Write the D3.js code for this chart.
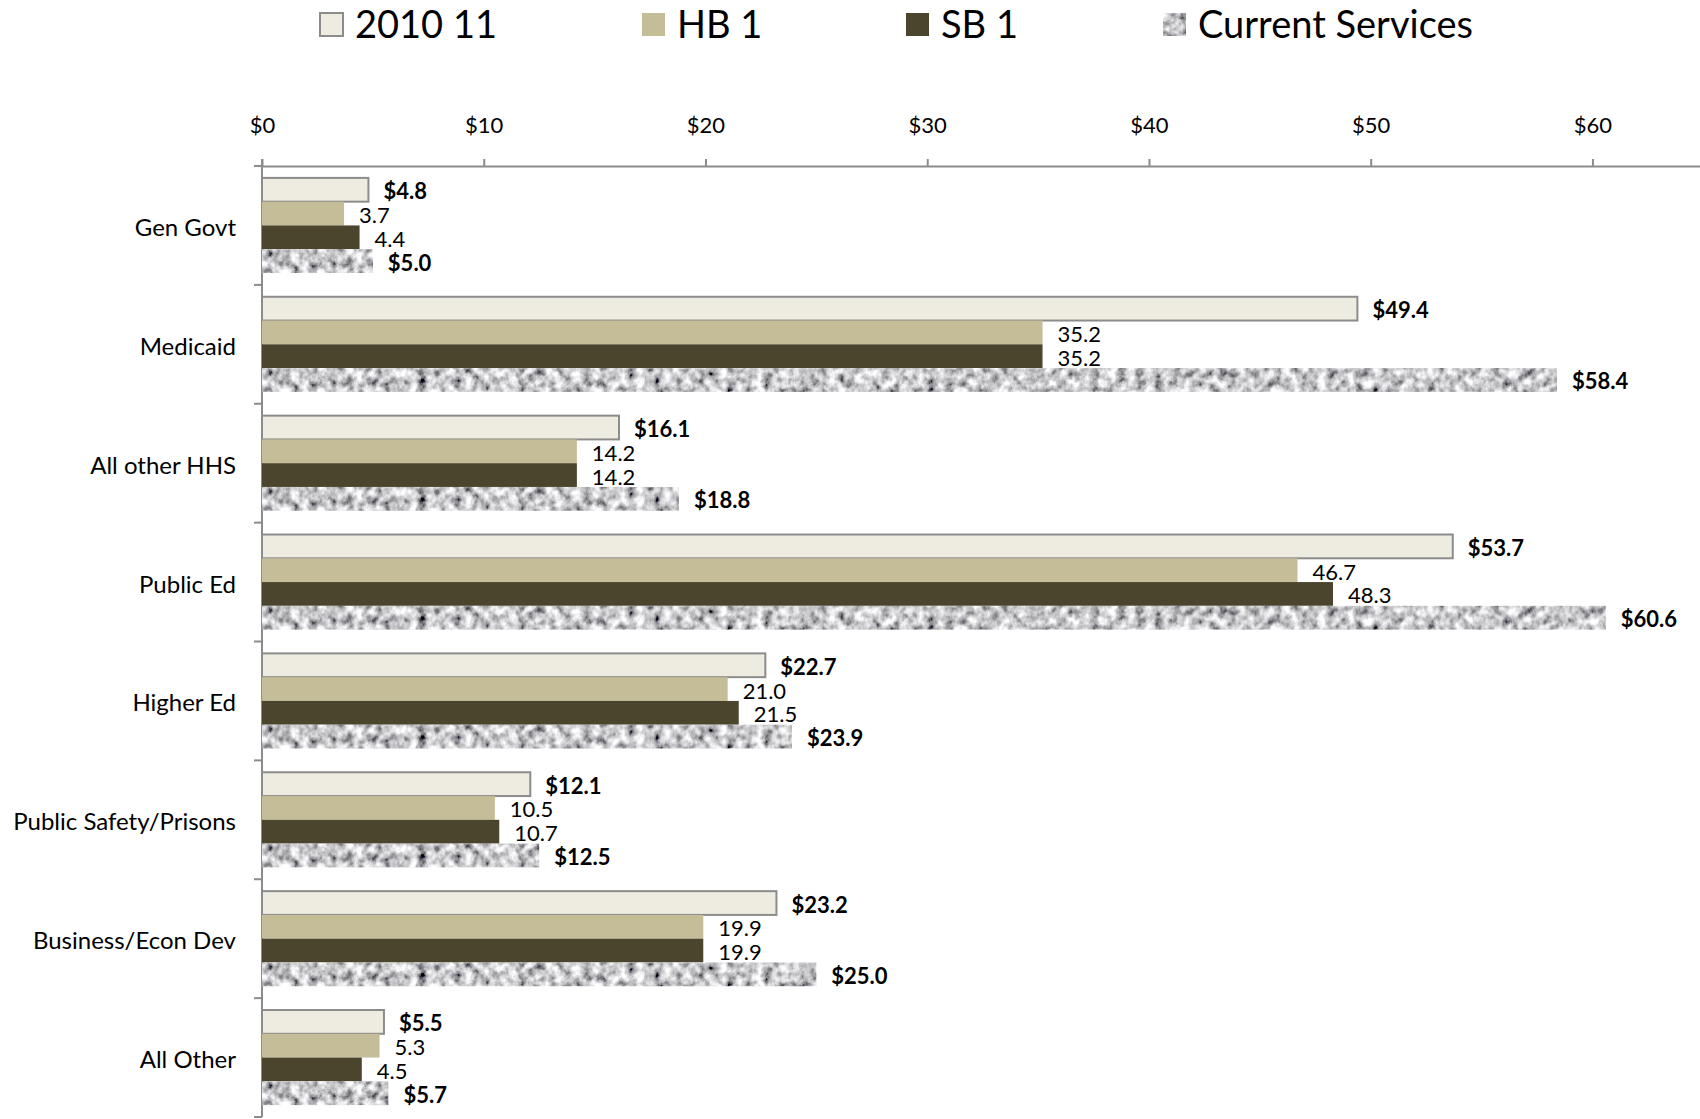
<!DOCTYPE html>
<html lang="en">

<head>
    <meta charset="UTF-8">
    <title>Spending by area</title>
    <script src="https://d3js.org/d3.v7.min.js"></script>
    <style>
        * {
            margin: 0;
            padding: 0;
        }

        body {
            background: #fff;
        }

        text {
            font-family: Lato, "Open Sans", sans-serif;
        }
    </style>
</head>

<body>
    <script>
        var width = 1700;
        var height = 1119;

        // data
        var categories = ['Gen Govt', 'Medicaid', 'All other HHS', 'Public Ed', 'Higher Ed',
            'Public Safety/Prisons', 'Business/Econ Dev', 'All Other'];
        var seriesNames = ['2010 11', 'HB 1', 'SB 1', 'Current Services'];
        var base2010 = [4.8, 49.4, 16.1, 53.7, 22.7, 12.1, 23.2, 5.5];
        var hb1 = [3.7, 35.2, 14.2, 46.7, 21.0, 10.5, 19.9, 5.3];
        var sb1 = [4.4, 35.2, 14.2, 48.3, 21.5, 10.7, 19.9, 4.5];
        var currentServices = [5.0, 58.4, 18.8, 60.6, 23.9, 12.5, 25.0, 5.7];
        var tickValues = [0, 10, 20, 30, 40, 50, 60];

        var seriesValues = [base2010, hb1, sb1, currentServices];
        var bold = [true, false, false, true];
        var fills = ['#EEEBE0', '#C5BD98', '#4B452D', 'url(#granite)'];

        var svg = d3.select('body')
            .append('svg')
            .attr('width', width)
            .attr('height', height);

        // granite texture for "Current Services"
        var defs = svg.append('defs');
        var pat = defs.append('pattern')
            .attr('id', 'granite')
            .attr('patternUnits', 'userSpaceOnUse')
            .attr('width', 1700)
            .attr('height', 1119);
        var flt = defs.append('filter')
            .attr('id', 'noise')
            .attr('filterUnits', 'userSpaceOnUse')
            .attr('x', 0).attr('y', 0)
            .attr('width', 1700).attr('height', 1119);
        flt.append('feTurbulence')
            .attr('type', 'fractalNoise')
            .attr('baseFrequency', 0.11)
            .attr('numOctaves', 4)
            .attr('seed', 4);
        flt.append('feColorMatrix')
            .attr('type', 'matrix')
            .attr('values', '1.7 0 0 0 -0.26  1.7 0 0 0 -0.26  1.7 0 0 0 -0.24  0 0 0 0 1');
        pat.append('rect')
            .attr('width', 1700)
            .attr('height', 1119)
            .attr('filter', 'url(#noise)');

        // scales
        var x = d3.scaleLinear()
            .domain([0, 64.85])
            .range([262, 1700]);

        var y = d3.scaleBand()
            .domain(categories)
            .range([166, 1117])
            .paddingInner(0.2)
            .paddingOuter(0.1);

        var ySub = d3.scaleBand()
            .domain(seriesNames)
            .range([0, y.bandwidth()]);

        // top axis
        var xAxis = d3.axisTop(x)
            .tickValues(tickValues)
            .tickSize(7)
            .tickSizeOuter(0)
            .tickPadding(26)
            .tickFormat(function (d) { return '$' + d; });

        var gx = svg.append('g')
            .attr('transform', 'translate(0,166)')
            .call(xAxis);
        gx.select('.domain').attr('stroke', '#8c8c8c').attr('stroke-width', 2);
        gx.selectAll('.tick line').attr('stroke', '#8c8c8c').attr('stroke-width', 2);
        gx.selectAll('.tick text')
            .attr('fill', '#000')
            .style('font-size', '22px')
            .style('font-family', 'Lato, sans-serif');

        // left axis line + category boundary ticks
        svg.append('line')
            .attr('x1', x(0)).attr('x2', x(0))
            .attr('y1', 159).attr('y2', 1117)
            .attr('stroke', '#8c8c8c')
            .attr('stroke-width', 2);

        var step = y.step();
        svg.selectAll('.catTick')
            .data(d3.range(categories.length + 1))
            .enter()
            .append('line')
            .attr('class', 'catTick')
            .attr('x1', x(0) - 8).attr('x2', x(0))
            .attr('y1', function (i) { return y.range()[0] + i * step; })
            .attr('y2', function (i) { return y.range()[0] + i * step; })
            .attr('stroke', '#8c8c8c')
            .attr('stroke-width', 2);

        // category labels
        svg.selectAll('.catLabel')
            .data(categories)
            .enter()
            .append('text')
            .attr('class', 'catLabel')
            .attr('x', 236)
            .attr('y', function (d) { return y(d) + y.bandwidth() / 2 + 1; })
            .attr('text-anchor', 'end')
            .attr('dominant-baseline', 'central')
            .style('font-size', '24px')
            .text(function (d) { return d; });

        // bars
        var groups = svg.selectAll('.cat')
            .data(categories)
            .enter()
            .append('g')
            .attr('class', 'cat')
            .attr('transform', function (d) { return 'translate(0,' + y(d) + ')'; });

        seriesNames.forEach(function (s, si) {
            groups.append('rect')
                .attr('x', x(0))
                .attr('y', ySub(s))
                .attr('width', function (d, i) { return x(seriesValues[si][i]) - x(0); })
                .attr('height', ySub.bandwidth())
                .attr('fill', fills[si])
                .attr('stroke', si === 0 ? '#8c8c8c' : 'none')
                .attr('stroke-width', 2);

            groups.append('text')
                .attr('x', function (d, i) { return x(seriesValues[si][i]) + 15; })
                .attr('y', ySub(s) + ySub.bandwidth() / 2 + 1)
                .attr('dominant-baseline', 'central')
                .style('font-size', '22px')
                .style('font-weight', bold[si] ? 'bold' : 'normal')
                .text(function (d, i) {
                    var v = seriesValues[si][i].toFixed(1);
                    return bold[si] ? '$' + v : v;
                });
        });

        // legend
        var legendX = [320, 642, 906, 1163];
        var legend = svg.selectAll('.legend')
            .data(seriesNames)
            .enter()
            .append('g')
            .attr('class', 'legend')
            .attr('transform', function (d, i) { return 'translate(' + legendX[i] + ',13)'; });

        legend.append('rect')
            .attr('width', 23)
            .attr('height', 23)
            .attr('fill', function (d, i) { return fills[i]; })
            .attr('stroke', function (d, i) { return i === 0 ? '#8c8c8c' : 'none'; })
            .attr('stroke-width', 2);

        legend.append('text')
            .attr('x', 35)
            .attr('y', 25)
            .style('font-size', '38px')
            .text(function (d) { return d; });
    </script>

</body>

</html>
